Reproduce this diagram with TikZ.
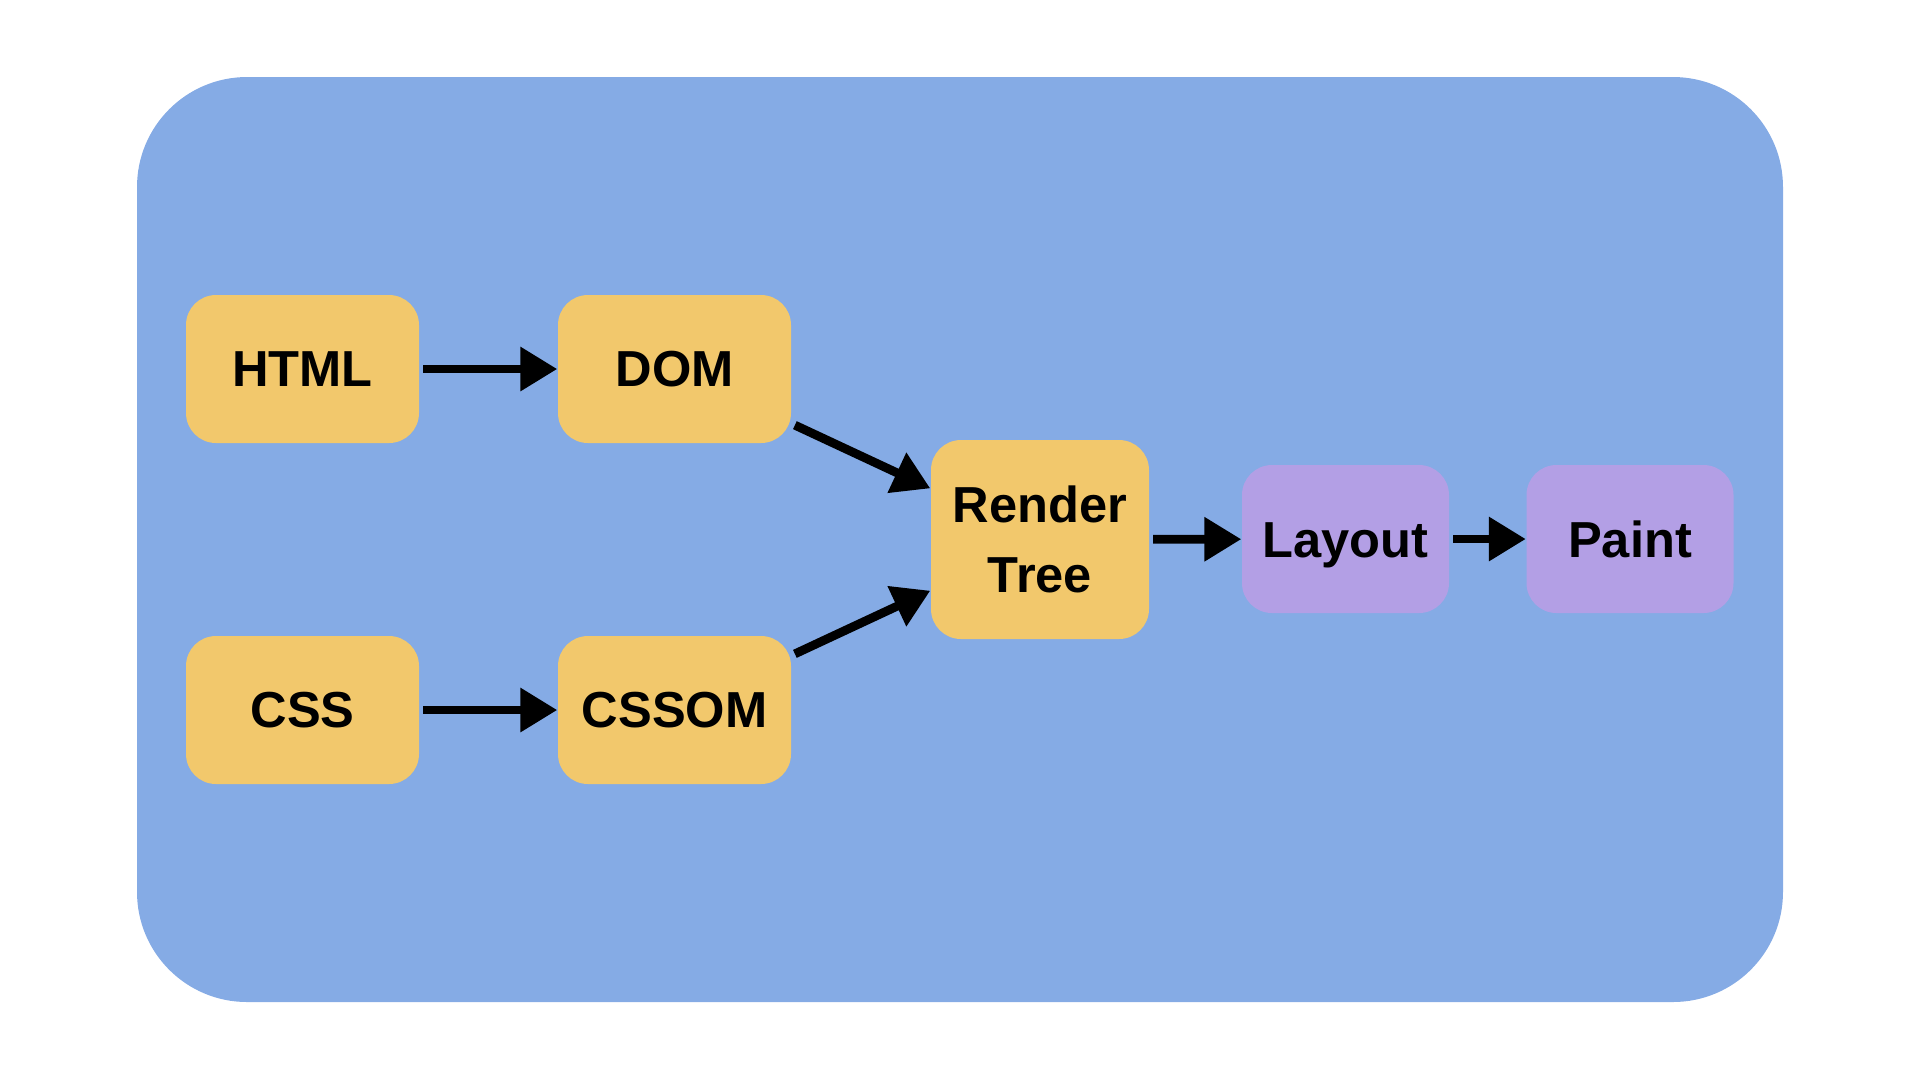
\documentclass[tikz,border=0pt]{standalone}
\usepackage{fontspec}
\setmainfont{Liberation Sans}
\usetikzlibrary{arrows.meta}
\definecolor{bgblue}{RGB}{133,171,229}
\definecolor{boxyellow}{RGB}{242,200,108}
\definecolor{boxpurple}{RGB}{179,159,229}
\begin{document}
\begin{tikzpicture}[x=0.1mm, y=-0.1mm,
  frame/.style={rectangle, fill=bgblue, rounded corners=11mm, minimum width=164.6mm, minimum height=92.5mm},
  stage/.style={rectangle, fill=boxyellow, rounded corners=3mm, minimum width=23.3mm, minimum height=14.8mm,
    align=center, font=\fontsize{14.4}{19.8}\selectfont\bfseries},
  paintstage/.style={stage, fill=boxpurple, minimum width=20.7mm, text height=10.4pt, text depth=0pt},
  flow/.style={draw=black, line width=2.5pt, -{Triangle[length=10.5pt, width=12pt]}, shorten <=1pt}]
\useasboundingbox (0,0) rectangle (1920,1080);
\node[frame] (bg) at (960,539.5){};
\node[stage] (html) at (302.5,369){HTML};
\node[stage] (dom) at (674.5,369){DOM};
\node[stage] (css) at (302.5,710){CSS};
\node[stage] (cssom) at (674.5,710){CSSOM};
\node[stage, minimum width=21.8mm, minimum height=19.9mm] (render) at (1040,539.5){Render\\Tree};
\node[paintstage] (layout) at (1345.5,539){Layout};
\node[paintstage] (paint) at (1630,539){Paint};
\draw[flow](html) -- (dom);
\draw[flow](css) -- (cssom);
\draw[flow](dom.-25) -- (render.155);
\draw[flow](cssom.25) -- (render.205);
\draw[flow](render) -- (layout);
\draw[flow](layout) -- (paint);
\end{tikzpicture}
\end{document}
